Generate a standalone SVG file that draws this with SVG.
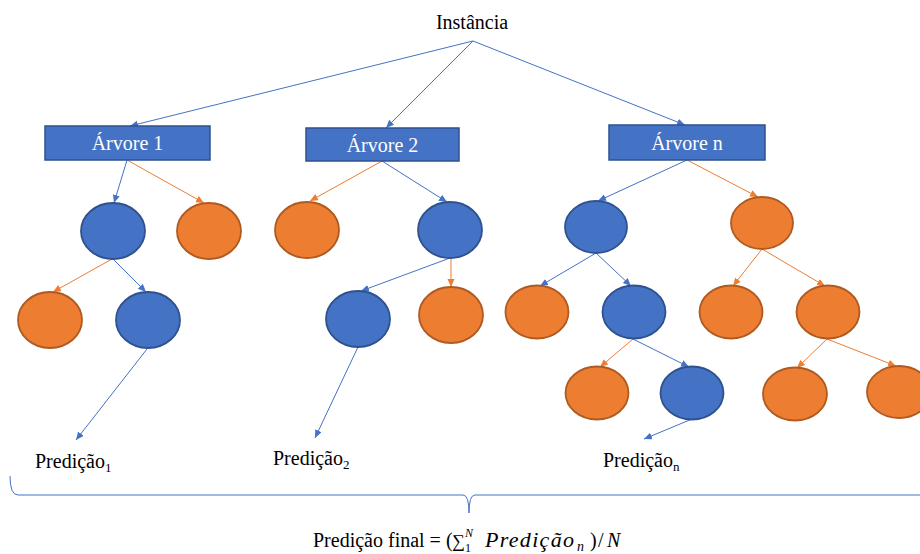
<svg xmlns="http://www.w3.org/2000/svg" width="920" height="554" viewBox="0 0 920 554">
  <style>
    .lbl { font-family: 'Liberation Serif', 'Times New Roman', serif; font-size: 20px; fill: #000000; }
    .box { fill: #4472C4; stroke: #2F528F; stroke-width: 1.5; }
    .boxtxt { font-family: 'Liberation Serif', 'Times New Roman', serif; font-size: 20px; fill: #ffffff; text-anchor: middle; }
    .nb { fill: #4472C4; stroke: #2F528F; stroke-width: 1.8; }
    .no { fill: #ED7D31; stroke: #AE5A21; stroke-width: 1.8; }
    .eb { stroke: #4472C4; stroke-width: 1; fill: none; marker-end: url(#ab); }
    .eo { stroke: #ED7D31; stroke-width: 1; fill: none; marker-end: url(#ao); }
    .mi { font-family: 'Liberation Serif', 'Times New Roman', serif; font-style: italic; fill: #000000; }
    .mu { font-family: 'Liberation Serif', 'DejaVu Serif', serif; fill: #000000; }
  </style>
  <defs>
    <marker id="ab" markerUnits="userSpaceOnUse" markerWidth="9" markerHeight="8" refX="8" refY="3.5" orient="auto">
      <path d="M0,0 L8,3.5 L0,7 z" fill="#4472C4"/>
    </marker>
    <marker id="ao" markerUnits="userSpaceOnUse" markerWidth="9" markerHeight="8" refX="8" refY="3.5" orient="auto">
      <path d="M0,0 L8,3.5 L0,7 z" fill="#ED7D31"/>
    </marker>
  </defs>

  <rect width="920" height="554" fill="#ffffff"/>

  <!-- connectors -->
  <g id="connectors">
    <line class="eb" x1="473" y1="41" x2="130" y2="126"/>
    <line class="eb" x1="473" y1="41" x2="386" y2="128"/>
    <line class="eb" x1="473" y1="41" x2="685" y2="125"/>
    <line class="eb" x1="127" y1="160" x2="114" y2="203"/>
    <line class="eo" x1="127" y1="160" x2="204" y2="203"/>
    <line class="eo" x1="382" y1="161" x2="310" y2="201"/>
    <line class="eb" x1="382" y1="161" x2="447" y2="202"/>
    <line class="eb" x1="687" y1="160" x2="598" y2="201"/>
    <line class="eo" x1="687" y1="160" x2="758" y2="197"/>
    <line class="eo" x1="112" y1="259" x2="53" y2="292"/>
    <line class="eb" x1="113" y1="259" x2="146" y2="292"/>
    <line class="eb" x1="450" y1="258" x2="361" y2="291"/>
    <line class="eo" x1="451" y1="258" x2="451" y2="287"/>
    <line class="eb" x1="596" y1="253" x2="540" y2="286"/>
    <line class="eb" x1="596" y1="253" x2="631" y2="286"/>
    <line class="eo" x1="762" y1="249" x2="733" y2="286"/>
    <line class="eo" x1="762" y1="249" x2="825" y2="286"/>
    <line class="eo" x1="633" y1="339" x2="600" y2="367"/>
    <line class="eb" x1="633" y1="339" x2="689" y2="367"/>
    <line class="eo" x1="827" y1="339" x2="797" y2="368"/>
    <line class="eo" x1="827" y1="339" x2="896" y2="366"/>
    <line class="eb" x1="147" y1="349" x2="76" y2="440"/>
    <line class="eb" x1="358" y1="347" x2="315" y2="438"/>
    <line class="eb" x1="692" y1="419" x2="644" y2="439"/>
  </g>

  <!-- root -->
  <g id="instancia">
    <text class="lbl" x="472" y="29" text-anchor="middle">Instância</text>
  </g>

  <!-- tree headers -->
  <g id="arvore1">
    <rect class="box" x="45" y="126" width="165" height="34"/>
    <text class="boxtxt" x="127.5" y="150">Árvore 1</text>
  </g>
  <g id="arvore2">
    <rect class="box" x="306" y="128" width="153" height="33"/>
    <text class="boxtxt" x="382.5" y="152">Árvore 2</text>
  </g>
  <g id="arvoren">
    <rect class="box" x="609" y="125" width="156" height="35"/>
    <text class="boxtxt" x="687" y="150">Árvore n</text>
  </g>

  <!-- tree 1 nodes -->
  <g id="t1-a"><ellipse class="nb" cx="113" cy="231" rx="32" ry="28"/></g>
  <g id="t1-b"><ellipse class="no" cx="209" cy="231" rx="32" ry="28"/></g>
  <g id="t1-c"><ellipse class="no" cx="50" cy="320" rx="32" ry="28"/></g>
  <g id="t1-d"><ellipse class="nb" cx="148" cy="320" rx="32" ry="28"/></g>

  <!-- tree 2 nodes -->
  <g id="t2-a"><ellipse class="no" cx="307" cy="230" rx="32" ry="28"/></g>
  <g id="t2-b"><ellipse class="nb" cx="450" cy="230" rx="32" ry="28"/></g>
  <g id="t2-c"><ellipse class="nb" cx="358" cy="319" rx="32" ry="28"/></g>
  <g id="t2-d"><ellipse class="no" cx="451" cy="315" rx="32" ry="28"/></g>

  <!-- tree n nodes -->
  <g id="tn-a"><ellipse class="nb" cx="596" cy="227" rx="31" ry="26"/></g>
  <g id="tn-b"><ellipse class="no" cx="762" cy="223" rx="31" ry="26"/></g>
  <g id="tn-c"><ellipse class="no" cx="537" cy="312" rx="31.5" ry="26.5"/></g>
  <g id="tn-d"><ellipse class="nb" cx="634" cy="312" rx="31.5" ry="26.5"/></g>
  <g id="tn-e"><ellipse class="no" cx="731" cy="312" rx="31.5" ry="26.5"/></g>
  <g id="tn-f"><ellipse class="no" cx="828" cy="312" rx="31.5" ry="26.5"/></g>
  <g id="tn-g"><ellipse class="no" cx="597" cy="393" rx="31.5" ry="26.5"/></g>
  <g id="tn-h"><ellipse class="nb" cx="692" cy="393" rx="31.5" ry="26.5"/></g>
  <g id="tn-i"><ellipse class="no" cx="795" cy="394" rx="32" ry="26.5"/></g>
  <g id="tn-j"><ellipse class="no" cx="899" cy="392" rx="32" ry="26"/></g>

  <!-- per-tree predictions -->
  <g id="pred1">
    <text class="lbl" x="35" y="468">Predição<tspan font-size="13" dy="4">1</tspan></text>
  </g>
  <g id="pred2">
    <text class="lbl" x="273" y="465">Predição<tspan font-size="13" dy="4">2</tspan></text>
  </g>
  <g id="predn">
    <text class="lbl" x="603" y="467">Predição<tspan font-size="13" dy="4">n</tspan></text>
  </g>

  <!-- brace -->
  <g id="brace">
    <path d="M10,476 Q10,495 18,495 L463,495 Q469,495 469,513 Q469,495 475,495 L920,495" fill="none" stroke="#4472C4" stroke-width="1"/>
  </g>

  <!-- final prediction -->
  <g id="final">
    <text class="lbl" x="313" y="547">Predição final = (</text>
    <text class="mu" x="452" y="547" font-size="18">∑</text>
    <text class="mi" x="465" y="537" font-size="12">N</text>
    <text class="mu" x="465" y="552" font-size="12">1</text>
    <text class="mi" x="485" y="547" font-size="22" letter-spacing="1.3">Predição</text>
    <text class="mi" x="577" y="551" font-size="14">n</text>
    <text class="mu" x="590" y="547" font-size="20">)</text>
    <text class="mu" x="598" y="547" font-size="20">/</text>
    <text class="mi" x="607" y="547" font-size="20">N</text>
  </g>
</svg>
